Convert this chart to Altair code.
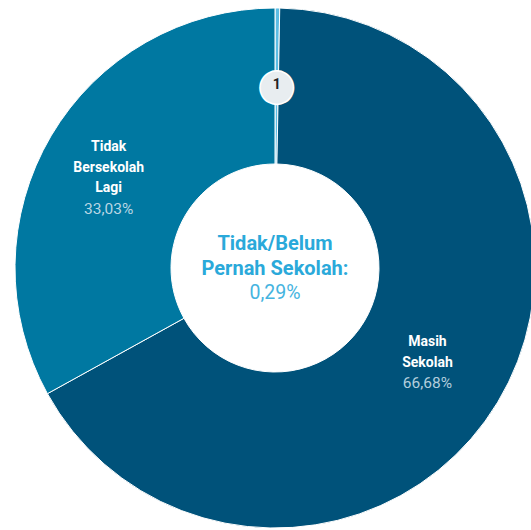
import altair as alt
import pandas as pd

categories = ["Tidak/Belum Pernah Sekolah", "Masih Sekolah", "Tidak Bersekolah Lagi"]
values = [0.29, 66.68, 33.03]
pct_labels = ["0,29%", "66,68%", "33,03%"]
name_labels = ["Tidak/Belum\nPernah Sekolah:", "Masih\nSekolah", "Tidak\nBersekolah\nLagi"]
colors = ["#5CBDE4", "#00527A", "#0078A1"]
badge_labels = ["1", "", ""]

df = pd.DataFrame({
    "idx": list(range(len(categories))),
    "category": categories,
    "value": values,
    "pct": pct_labels,
    "name": name_labels,
    "badge": badge_labels,
})

theta = alt.Theta("value:Q", stack=True)
order = alt.Order("idx:Q", sort="ascending")

base = alt.Chart(df)

arcs = base.mark_arc(outerRadius=260, innerRadius=104, stroke="white", strokeWidth=1).encode(
    theta=theta,
    order=order,
    color=alt.Color("category:N", scale=alt.Scale(domain=categories, range=colors), legend=None),
)


def label_layer(idx, field, radius, dx, dy, size, weight, color, lh):
    expr = "datum.idx == %d ? datum.%s : ''" % (idx, field)
    return base.transform_calculate(t=expr).mark_text(
        radius=radius, font="Roboto", fontSize=size, fontWeight=weight, color=color,
        lineBreak="\n", lineHeight=lh, baseline="middle", align="center", dx=dx, dy=dy,
    ).encode(theta=theta, order=order, text="t:N")


# Tidak Bersekolah Lagi (idx 2): 3 name lines + pct
tb_name = label_layer(2, "name", 185, -7, -27, 14, "bold", "white", 20.7)
tb_pct = label_layer(2, "pct", 185, -7, 35, 15.5, "normal", "#B9D6E4", 20.7)
# Masih Sekolah (idx 1): 2 name lines + pct
ms_name = label_layer(1, "name", 178, 0, -18, 14, "bold", "white", 20.7)
ms_pct = label_layer(1, "pct", 178, 0, 23, 15.5, "normal", "#B3CEDD", 20.7)
# Centre: Tidak/Belum Pernah Sekolah (idx 0)
c_name = label_layer(0, "name", 0, 0, -24, 20, "bold", "#2AA9DA", 24.5)
c_pct = label_layer(0, "pct", 0, 0, 25, 19.5, "normal", "#45B4E0", 25)

badge_bg = base.transform_calculate(
    t="datum.badge != '' ? '\u25cf' : ''"
).mark_text(radius=183, font="DejaVu Sans", fontSize=44, color="#E8EDF0",
            stroke="white", strokeWidth=1.5, baseline="middle", align="center", dy=1).encode(
    theta=theta, order=order, text="t:N")

badge_txt = base.mark_text(radius=183, font="Roboto", fontSize=14, fontWeight="bold",
                           color="#222222", baseline="middle", align="center").encode(
    theta=theta, order=order, text="badge:N")

chart = alt.layer(arcs, tb_name, tb_pct, ms_name, ms_pct, c_name, c_pct, badge_bg, badge_txt).properties(
    width=512, height=524,
    autosize=alt.AutoSizeParams(type="none"),
    padding={"left": 19, "top": 6, "right": 0, "bottom": 0},
    background="white",
).configure_view(stroke=None)

chart.save("out.html", embed_options={"renderer": "svg", "actions": False})
